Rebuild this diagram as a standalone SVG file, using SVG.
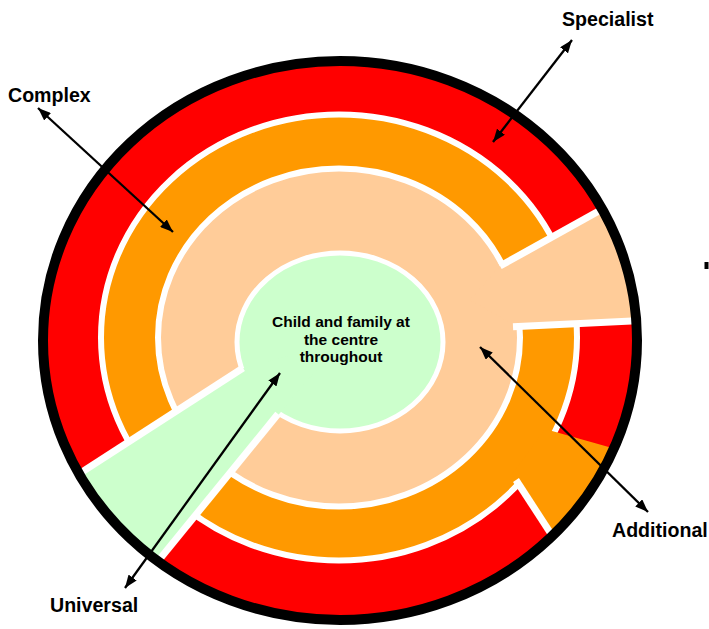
<svg xmlns="http://www.w3.org/2000/svg" width="709" height="629" viewBox="0 0 709 629">
<defs>
<style>
.lbl{font-family:"Liberation Sans",Arial,sans-serif;font-weight:bold;font-size:19.6px;fill:#000}
.ctr{font-family:"Liberation Sans",Arial,sans-serif;font-weight:bold;font-size:15.5px;fill:#000;text-anchor:middle}
.cut{stroke:#fff;stroke-width:7;fill:none}
.conn{stroke:#000;stroke-width:2.3;fill:none;marker-start:url(#ah);marker-end:url(#ah)}
</style>
<clipPath id="inside"><ellipse cx="340" cy="340.5" rx="297" ry="279.5"/></clipPath>
<marker id="ah" viewBox="0 0 13 10" refX="13" refY="5" markerWidth="13" markerHeight="10" markerUnits="userSpaceOnUse" orient="auto-start-reverse"><path d="M0,0 L13,5 L0,10 z" fill="#000"/></marker>
</defs>
<rect width="709" height="629" fill="#fff"/>
<g clip-path="url(#inside)">
  <g id="specialist-ring"><ellipse cx="340" cy="340.5" rx="297" ry="279.5" fill="#f00"/></g>
  <g id="complex-ring">
    <ellipse cx="339" cy="337.5" rx="238" ry="223" fill="#f90" stroke="#fff" stroke-width="6"/>
    <polygon points="545,429 680,467 680,640 620,640 512,474 530,450" fill="#f90"/>
    <line class="cut" x1="516" y1="480" x2="620" y2="640"/>
  </g>
  <g id="additional-ring">
    <ellipse cx="339" cy="337.5" rx="181" ry="169" fill="#fc9" stroke="#fff" stroke-width="6"/>
    <polygon points="470,300 500,266 680,166 680,318.6 517,326.5" fill="#fc9"/>
    <line class="cut" x1="500" y1="266" x2="680" y2="166"/>
    <line class="cut" x1="513" y1="326.7" x2="680" y2="318.6"/>
  </g>
  <g id="universal-centre">
    <ellipse cx="340" cy="342" rx="103" ry="89" fill="#cfc" stroke="#fff" stroke-width="5"/>
    <polygon points="340,342 241,369 20,512 20,660 77.5,660 280,413" fill="#cfc"/>
    <line class="cut" x1="243" y1="368" x2="20" y2="512" stroke-width="8"/>
    <line class="cut" x1="278" y1="414" x2="77.5" y2="660"/>
  </g>
</g>
<g id="outer-border"><ellipse cx="340" cy="340.5" rx="297" ry="279.5" fill="none" stroke="#000" stroke-width="10"/></g>
<g id="centre-label">
  <text class="ctr" x="341" y="327">Child and family at</text>
  <text class="ctr" x="341" y="344.5">the centre</text>
  <text class="ctr" x="341" y="362">throughout</text>
</g>
<g id="connectors">
  <line class="conn" x1="572" y1="40" x2="493" y2="142"/>
  <line class="conn" x1="38" y1="108" x2="173" y2="232"/>
  <line class="conn" x1="280" y1="373" x2="125" y2="588"/>
  <line class="conn" x1="480" y1="347" x2="648" y2="512"/>
</g>
<g id="label-specialist"><text class="lbl" x="562" y="26">Specialist</text></g>
<g id="label-complex"><text class="lbl" x="8" y="102">Complex</text></g>
<g id="label-universal"><text class="lbl" x="50" y="612">Universal</text></g>
<g id="label-additional"><text class="lbl" x="612" y="537">Additional</text></g>
<rect x="704.5" y="262" width="4" height="7" fill="#000"/>
</svg>
